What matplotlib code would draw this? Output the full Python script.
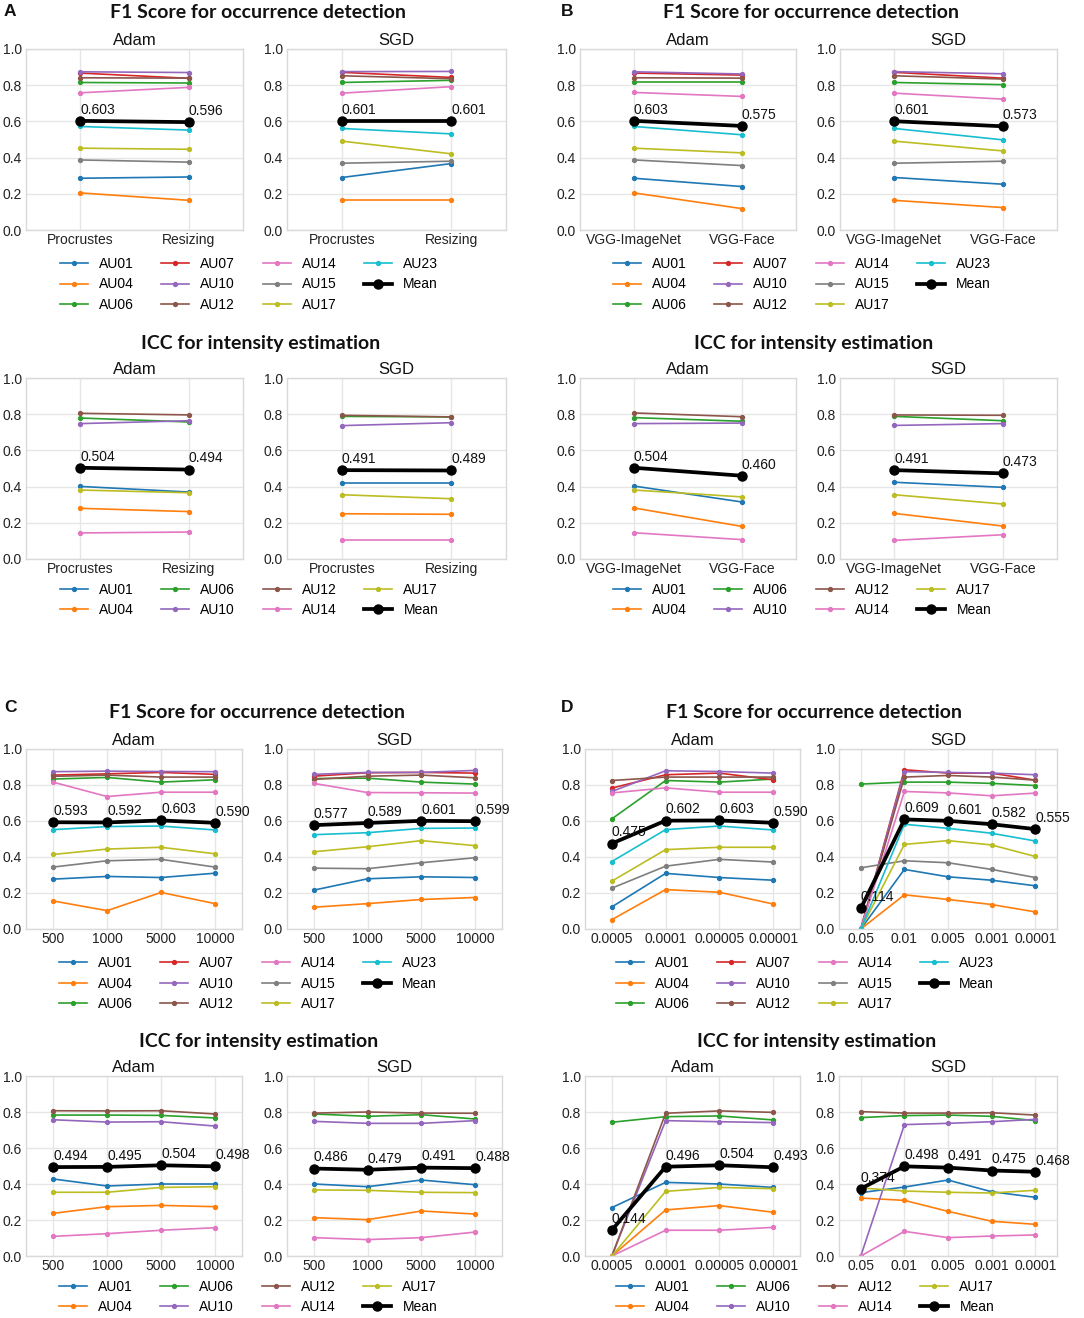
import matplotlib
matplotlib.use("Agg")
import matplotlib.pyplot as plt

W, H = 1084, 1318

# ---------------- categories ----------------
AU_F1 = ["AU01", "AU04", "AU06", "AU07", "AU10", "AU12", "AU14", "AU15", "AU17", "AU23"]
AU_ICC = ["AU01", "AU04", "AU06", "AU10", "AU12", "AU14", "AU17"]
cats_A = ["Procrustes", "Resizing"]
cats_B = ["VGG-ImageNet", "VGG-Face"]
cats_C = ["500", "1000", "5000", "10000"]
cats_D_adam = ["0.0005", "0.0001", "0.00005", "0.00001"]
cats_D_sgd = ["0.05", "0.01", "0.005", "0.001", "0.0001"]
ytick_vals = [0.0, 0.2, 0.4, 0.6, 0.8, 1.0]
ytick_labels = ["0.0", "0.2", "0.4", "0.6", "0.8", "1.0"]

# ---------------- Panel A ----------------
a_f1_adam = {"AU01": [0.286, 0.293], "AU04": [0.205, 0.164], "AU06": [0.815, 0.812],
             "AU07": [0.867, 0.838], "AU10": [0.874, 0.870], "AU12": [0.841, 0.839],
             "AU14": [0.758, 0.788], "AU15": [0.387, 0.375], "AU17": [0.452, 0.446],
             "AU23": [0.572, 0.552]}
a_f1_adam_mean = [0.603, 0.596]
a_f1_sgd = {"AU01": [0.290, 0.367], "AU04": [0.164, 0.164], "AU06": [0.815, 0.827],
            "AU07": [0.871, 0.843], "AU10": [0.875, 0.876], "AU12": [0.852, 0.836],
            "AU14": [0.756, 0.792], "AU15": [0.369, 0.380], "AU17": [0.491, 0.421],
            "AU23": [0.561, 0.531]}
a_f1_sgd_mean = [0.601, 0.601]
a_icc_adam = {"AU01": [0.401, 0.370], "AU04": [0.280, 0.262], "AU06": [0.779, 0.757],
              "AU10": [0.748, 0.764], "AU12": [0.805, 0.796], "AU14": [0.144, 0.149],
              "AU17": [0.381, 0.366]}
a_icc_adam_mean = [0.504, 0.494]
a_icc_sgd = {"AU01": [0.422, 0.422], "AU04": [0.250, 0.247], "AU06": [0.788, 0.785],
             "AU10": [0.737, 0.753], "AU12": [0.794, 0.785], "AU14": [0.103, 0.103],
             "AU17": [0.355, 0.333]}
a_icc_sgd_mean = [0.491, 0.489]

# ---------------- Panel B ----------------
b_f1_adam = {"AU01": [0.286, 0.240], "AU04": [0.205, 0.118], "AU06": [0.815, 0.815],
             "AU07": [0.867, 0.856], "AU10": [0.874, 0.862], "AU12": [0.841, 0.839],
             "AU14": [0.760, 0.738], "AU15": [0.387, 0.356], "AU17": [0.452, 0.426],
             "AU23": [0.572, 0.526]}
b_f1_adam_mean = [0.603, 0.575]
b_f1_sgd = {"AU01": [0.290, 0.253], "AU04": [0.164, 0.124], "AU06": [0.815, 0.803],
            "AU07": [0.871, 0.839], "AU10": [0.875, 0.863], "AU12": [0.852, 0.834],
            "AU14": [0.756, 0.723], "AU15": [0.369, 0.380], "AU17": [0.491, 0.437],
            "AU23": [0.561, 0.498]}
b_f1_sgd_mean = [0.601, 0.573]
b_icc_adam = {"AU01": [0.403, 0.315], "AU04": [0.282, 0.180], "AU06": [0.781, 0.761],
              "AU10": [0.748, 0.751], "AU12": [0.807, 0.786], "AU14": [0.145, 0.107],
              "AU17": [0.381, 0.343]}
b_icc_adam_mean = [0.504, 0.460]
b_icc_sgd = {"AU01": [0.424, 0.396], "AU04": [0.252, 0.182], "AU06": [0.788, 0.764],
             "AU10": [0.738, 0.748], "AU12": [0.796, 0.794], "AU14": [0.103, 0.134],
             "AU17": [0.355, 0.304]}
b_icc_sgd_mean = [0.491, 0.473]

# ---------------- Panel C ----------------
c_f1_adam = {"AU01": [0.277, 0.292, 0.286, 0.310], "AU04": [0.156, 0.102, 0.203, 0.141],
             "AU06": [0.833, 0.842, 0.816, 0.829], "AU07": [0.855, 0.862, 0.870, 0.859],
             "AU10": [0.874, 0.877, 0.875, 0.874], "AU12": [0.848, 0.855, 0.844, 0.844],
             "AU14": [0.816, 0.736, 0.760, 0.760], "AU15": [0.344, 0.379, 0.387, 0.344],
             "AU17": [0.414, 0.444, 0.454, 0.418], "AU23": [0.552, 0.569, 0.572, 0.550]}
c_f1_adam_mean = [0.593, 0.592, 0.603, 0.590]
c_f1_sgd = {"AU01": [0.216, 0.279, 0.290, 0.286], "AU04": [0.121, 0.141, 0.164, 0.175],
            "AU06": [0.836, 0.838, 0.816, 0.805], "AU07": [0.849, 0.868, 0.870, 0.866],
            "AU10": [0.859, 0.870, 0.870, 0.881], "AU12": [0.831, 0.849, 0.855, 0.840],
            "AU14": [0.809, 0.758, 0.757, 0.755], "AU15": [0.338, 0.335, 0.368, 0.396],
            "AU17": [0.429, 0.457, 0.491, 0.463], "AU23": [0.524, 0.535, 0.559, 0.561]}
c_f1_sgd_mean = [0.577, 0.589, 0.601, 0.599]
c_icc_adam = {"AU01": [0.428, 0.389, 0.400, 0.400], "AU04": [0.237, 0.274, 0.281, 0.274],
              "AU06": [0.783, 0.783, 0.781, 0.767], "AU10": [0.757, 0.744, 0.746, 0.722],
              "AU12": [0.807, 0.806, 0.807, 0.789], "AU14": [0.109, 0.124, 0.143, 0.157],
              "AU17": [0.354, 0.354, 0.381, 0.385]}
c_icc_adam_mean = [0.494, 0.495, 0.504, 0.498]
c_icc_sgd = {"AU01": [0.400, 0.385, 0.422, 0.396], "AU04": [0.213, 0.202, 0.250, 0.233],
             "AU06": [0.789, 0.776, 0.785, 0.761], "AU10": [0.748, 0.737, 0.737, 0.752],
             "AU12": [0.794, 0.800, 0.794, 0.793], "AU14": [0.102, 0.091, 0.102, 0.133],
             "AU17": [0.367, 0.365, 0.354, 0.352]}
c_icc_sgd_mean = [0.486, 0.479, 0.491, 0.488]

# ---------------- Panel D ----------------
d_f1_adam = {"AU01": [0.123, 0.309, 0.286, 0.271], "AU04": [0.052, 0.219, 0.204, 0.139],
             "AU06": [0.612, 0.825, 0.816, 0.833], "AU07": [0.783, 0.857, 0.866, 0.829],
             "AU10": [0.764, 0.879, 0.875, 0.866], "AU12": [0.825, 0.844, 0.844, 0.844],
             "AU14": [0.756, 0.784, 0.760, 0.760], "AU15": [0.227, 0.349, 0.387, 0.372],
             "AU17": [0.266, 0.441, 0.454, 0.454], "AU23": [0.375, 0.552, 0.572, 0.550]}
d_f1_adam_mean = [0.475, 0.602, 0.603, 0.590]
d_f1_sgd = {"AU01": [0.0, 0.331, 0.290, 0.271, 0.240], "AU04": [0.0, 0.190, 0.164, 0.136, 0.095],
            "AU06": [0.805, 0.816, 0.816, 0.809, 0.797], "AU07": [0.0, 0.885, 0.866, 0.866, 0.827],
            "AU10": [0.0, 0.874, 0.870, 0.866, 0.857], "AU12": [0.0, 0.844, 0.853, 0.844, 0.827],
            "AU14": [0.0, 0.764, 0.756, 0.740, 0.755], "AU15": [0.340, 0.379, 0.368, 0.331, 0.286],
            "AU17": [0.0, 0.470, 0.491, 0.467, 0.403], "AU23": [0.0, 0.582, 0.559, 0.532, 0.489]}
d_f1_sgd_mean = [0.114, 0.609, 0.601, 0.582, 0.555]
d_icc_adam = {"AU01": [0.269, 0.409, 0.400, 0.381], "AU04": [0.0, 0.256, 0.280, 0.243],
              "AU06": [0.743, 0.774, 0.778, 0.756], "AU10": [0.0, 0.752, 0.746, 0.741],
              "AU12": [0.0, 0.793, 0.806, 0.798], "AU14": [0.0, 0.143, 0.143, 0.159],
              "AU17": [0.0, 0.359, 0.381, 0.374]}
d_icc_adam_mean = [0.144, 0.496, 0.504, 0.493]
d_icc_sgd = {"AU01": [0.352, 0.383, 0.422, 0.357, 0.326], "AU04": [0.322, 0.309, 0.248, 0.193, 0.176],
             "AU06": [0.769, 0.780, 0.783, 0.776, 0.752], "AU10": [0.0, 0.730, 0.737, 0.746, 0.759],
             "AU12": [0.802, 0.794, 0.794, 0.796, 0.783], "AU14": [0.0, 0.137, 0.102, 0.111, 0.117],
             "AU17": [0.378, 0.361, 0.354, 0.350, 0.365]}
d_icc_sgd_mean = [0.374, 0.498, 0.491, 0.475, 0.468]

COLORS = {"AU01": "#1f77b4", "AU04": "#ff7f0e", "AU06": "#2ca02c", "AU07": "#d62728",
          "AU10": "#9467bd", "AU12": "#8c564b", "AU14": "#e377c2", "AU15": "#7f7f7f",
          "AU17": "#bcbd22", "AU23": "#17becf"}

BASE_FONT = ["Liberation Sans", "DejaVu Sans"]
TITLE_FONT = ["Lato", "DejaVu Sans"]
plt.rcParams["font.family"] = BASE_FONT

fig = plt.figure(figsize=(W / 100, H / 100), dpi=100)
fig.patch.set_facecolor("white")


def make_ax(x0, y0, x1, y1):
    return fig.add_axes([x0 / W, 1 - y1 / H, (x1 - x0) / W, (y1 - y0) / H])


def draw(ax, title, cats, data, aus, mean):
    xs = list(range(len(cats)))
    for au in aus:
        ax.plot(xs, data[au], color=COLORS[au], lw=1.2, marker="o", ms=2.8, label=au, zorder=2)
    ax.plot(xs, mean, color="black", lw=2.7, marker="o", ms=6.5, label="Mean", zorder=3)
    for i, v in enumerate(mean):
        ax.annotate(f"{v:.3f}", (i, v), xytext=(0, 3), textcoords="offset points",
                    ha="left", va="bottom", fontsize=10, color="#111111", zorder=4)
    ax.set_xlim(-0.5, len(cats) - 0.5)
    ax.set_ylim(0, 1)
    ax.set_xticks(xs)
    ax.set_xticklabels(cats)
    ax.set_yticks(ytick_vals)
    ax.set_yticklabels(ytick_labels)
    ax.tick_params(length=0, labelsize=10, colors="#222222", pad=3)
    ax.tick_params(axis="x", pad=2)
    ax.grid(True, color="#e6e6e6", lw=1.0, zorder=0)
    ax.set_axisbelow(True)
    for s in ax.spines.values():
        s.set_color("#d9d9d9")
        s.set_linewidth(1.0)
    ax.set_title(title, fontsize=12, pad=3, color="#111111")
    return ax


def legend(ax, cx, cy):
    h, l = ax.get_legend_handles_labels()
    fig.legend(h, l, loc="center", bbox_to_anchor=(cx / W, 1 - cy / H), ncol=4,
               frameon=False, fontsize=10, handlelength=2.0, handletextpad=0.8,
               columnspacing=2.0, labelspacing=0.45, borderpad=0.2)


def header(x, y, text):
    fig.text(x / W, 1 - y / H, text, ha="center", va="center", fontsize=14,
             fontweight="bold", family=TITLE_FONT, color="#111111")


def letter(x, y, text):
    fig.text(x / W, 1 - y / H, text, ha="left", va="center", fontsize=12.5,
             fontweight="bold", color="#111111")


# Panel A
letter(4, 12, "A")
header(258, 13, "F1 Score for occurrence detection")
ax = draw(make_ax(26, 49, 243, 230), "Adam", cats_A, a_f1_adam, AU_F1, a_f1_adam_mean)
draw(make_ax(287, 49, 506, 230), "SGD", cats_A, a_f1_sgd, AU_F1, a_f1_sgd_mean)
legend(ax, 249, 284.5)
header(261, 343, "ICC for intensity estimation")
ax = draw(make_ax(26, 378, 243, 559), "Adam", cats_A, a_icc_adam, AU_ICC, a_icc_adam_mean)
draw(make_ax(287, 378, 506, 559), "SGD", cats_A, a_icc_sgd, AU_ICC, a_icc_sgd_mean)
legend(ax, 249, 600)

# Panel B
letter(561, 12, "B")
header(811, 13, "F1 Score for occurrence detection")
ax = draw(make_ax(580, 49, 796, 230), "Adam", cats_B, b_f1_adam, AU_F1, b_f1_adam_mean)
draw(make_ax(840, 49, 1057, 230), "SGD", cats_B, b_f1_sgd, AU_F1, b_f1_sgd_mean)
legend(ax, 802, 284.5)
header(814, 343, "ICC for intensity estimation")
ax = draw(make_ax(580, 378, 796, 559), "Adam", cats_B, b_icc_adam, AU_ICC, b_icc_adam_mean)
draw(make_ax(840, 378, 1057, 559), "SGD", cats_B, b_icc_sgd, AU_ICC, b_icc_sgd_mean)
legend(ax, 802, 600)

# Panel C
letter(4, 707, "C")
header(257, 713, "F1 Score for occurrence detection")
ax = draw(make_ax(26, 749, 242, 929), "Adam", cats_C, c_f1_adam, AU_F1, c_f1_adam_mean)
draw(make_ax(287, 749, 502, 929), "SGD", cats_C, c_f1_sgd, AU_F1, c_f1_sgd_mean)
legend(ax, 248, 983.5)
header(259, 1041, "ICC for intensity estimation")
ax = draw(make_ax(26, 1076, 242, 1256), "Adam", cats_C, c_icc_adam, AU_ICC, c_icc_adam_mean)
draw(make_ax(287, 1076, 502, 1256), "SGD", cats_C, c_icc_sgd, AU_ICC, c_icc_sgd_mean)
legend(ax, 248, 1297)

# Panel D
letter(561, 707, "D")
header(814, 713, "F1 Score for occurrence detection")
ax = draw(make_ax(585, 749, 800, 929), "Adam", cats_D_adam, d_f1_adam, AU_F1, d_f1_adam_mean)
draw(make_ax(839, 749, 1057, 929), "SGD", cats_D_sgd, d_f1_sgd, AU_F1, d_f1_sgd_mean)
legend(ax, 805, 983.5)
header(817, 1041, "ICC for intensity estimation")
ax = draw(make_ax(585, 1076, 800, 1256), "Adam", cats_D_adam, d_icc_adam, AU_ICC, d_icc_adam_mean)
draw(make_ax(839, 1076, 1057, 1256), "SGD", cats_D_sgd, d_icc_sgd, AU_ICC, d_icc_sgd_mean)
legend(ax, 805, 1297)

fig.savefig("out.png", dpi=100, facecolor="white")
